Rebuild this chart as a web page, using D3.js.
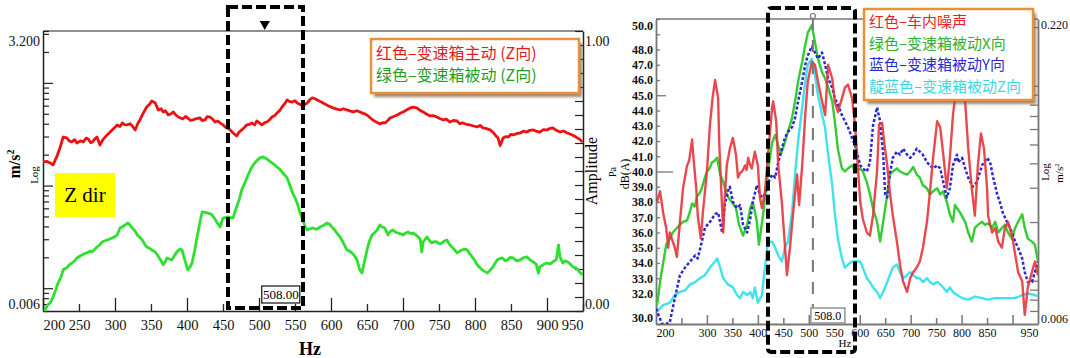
<!DOCTYPE html>
<html><head><meta charset="utf-8">
<script src="https://cdn.jsdelivr.net/npm/d3@7"></script>
<style>
body{margin:0;background:#fff;}
svg{display:block;}
.ax text{font-family:"Liberation Serif",serif;fill:#111;}
.serif{font-family:"Liberation Serif",serif;}
</style></head><body>
<svg id="c" width="1070" height="358"></svg>
<script>
// ---------- Left panel data (Hz, m/s², log axis) ----------
const leftRed = [[200,0.170],[205,0.172],[210,0.166],[214,0.159],[219,0.190],[224,0.237],[228,0.297],[233,0.291],[237,0.270],[240,0.266],[244,0.280],[247,0.260],[252,0.272],[256,0.266],[260,0.290],[263,0.284],[266,0.262],[269,0.266],[272,0.285],[275,0.297],[279,0.248],[283,0.278],[289,0.311],[293,0.330],[296,0.348],[300,0.370],[303,0.389],[307,0.375],[310,0.407],[313,0.392],[317,0.389],[321,0.400],[324,0.380],[328,0.348],[332,0.407],[335,0.440],[338,0.487],[344,0.582],[348,0.620],[351,0.666],[356,0.637],[360,0.545],[364,0.560],[367,0.521],[370,0.535],[374,0.487],[378,0.500],[381,0.521],[384,0.490],[388,0.465],[394,0.445],[398,0.470],[401,0.455],[405,0.430],[408,0.435],[413,0.448],[418,0.455],[421,0.430],[425,0.435],[428,0.470],[432,0.465],[436,0.440],[439,0.416],[443,0.425],[446,0.407],[450,0.390],[453,0.372],[457,0.360],[460,0.348],[464,0.325],[469,0.304],[472,0.330],[476,0.348],[480,0.370],[483,0.389],[487,0.395],[490,0.407],[494,0.390],[497,0.426],[501,0.405],[504,0.389],[508,0.410],[511,0.416],[515,0.440],[518,0.465],[522,0.480],[525,0.509],[529,0.540],[532,0.582],[536,0.630],[539,0.681],[542,0.660],[546,0.651],[550,0.670],[553,0.637],[557,0.615],[560,0.596],[564,0.620],[567,0.637],[571,0.690],[574,0.713],[578,0.700],[581,0.681],[585,0.660],[589,0.637],[594,0.609],[598,0.590],[603,0.570],[608,0.555],[613,0.545],[617,0.560],[622,0.545],[627,0.530],[631,0.521],[636,0.535],[640,0.521],[645,0.505],[650,0.487],[654,0.460],[658,0.435],[663,0.415],[668,0.398],[672,0.410],[675,0.407],[679,0.430],[682,0.455],[687,0.470],[692,0.487],[696,0.505],[700,0.521],[705,0.545],[710,0.570],[714,0.580],[719,0.570],[723,0.545],[728,0.521],[733,0.495],[738,0.476],[742,0.480],[747,0.465],[751,0.450],[756,0.435],[760,0.445],[765,0.416],[770,0.430],[775,0.426],[779,0.400],[783,0.407],[788,0.395],[793,0.389],[798,0.380],[803,0.372],[807,0.385],[811,0.364],[816,0.358],[821,0.348],[825,0.330],[828,0.311],[832,0.290],[835,0.245],[839,0.291],[843,0.300],[846,0.297],[850,0.315],[853,0.311],[858,0.320],[863,0.325],[867,0.338],[872,0.332],[876,0.345],[881,0.348],[885,0.338],[890,0.332],[895,0.350],[900,0.348],[904,0.360],[908,0.364],[913,0.345],[918,0.332],[923,0.340],[928,0.325],[932,0.318],[935,0.311],[939,0.300],[942,0.291],[946,0.280],[949,0.266]];
const leftGreen = [[202,0.0060],[206,0.0068],[210,0.0072],[214,0.0082],[218,0.0098],[221,0.0113],[225,0.0128],[228,0.0151],[233,0.0158],[236,0.0168],[240,0.0176],[244,0.0185],[247,0.0197],[251,0.0205],[254,0.0211],[258,0.0218],[261,0.0221],[265,0.0230],[268,0.0226],[272,0.0240],[275,0.0252],[279,0.0265],[282,0.0282],[285,0.0288],[289,0.0295],[292,0.0300],[296,0.0309],[300,0.0318],[303,0.0330],[307,0.0386],[311,0.0400],[314,0.0413],[318,0.0432],[321,0.0410],[324,0.0386],[328,0.0360],[331,0.0330],[335,0.0310],[338,0.0295],[341,0.0270],[344,0.0252],[348,0.0245],[351,0.0236],[356,0.0226],[360,0.0205],[363,0.0189],[367,0.0169],[370,0.0182],[372,0.0197],[376,0.0192],[379,0.0189],[383,0.0210],[386,0.0226],[390,0.0240],[393,0.0236],[397,0.0189],[401,0.0151],[404,0.0160],[407,0.0176],[411,0.0240],[414,0.0316],[418,0.0440],[421,0.0553],[425,0.0548],[428,0.0541],[432,0.0530],[435,0.0517],[439,0.0470],[442,0.0432],[446,0.0395],[450,0.0483],[454,0.0490],[457,0.0494],[461,0.0488],[464,0.0483],[466,0.0540],[469,0.0619],[473,0.0750],[476,0.0906],[480,0.1050],[483,0.1185],[488,0.1418],[491,0.1550],[494,0.1660],[498,0.1780],[501,0.1856],[506,0.1900],[511,0.1815],[515,0.1720],[518,0.1660],[522,0.1580],[525,0.1517],[529,0.1440],[532,0.1356],[536,0.1260],[539,0.1185],[543,0.1000],[546,0.0866],[550,0.0760],[553,0.0677],[557,0.0541],[561,0.0462],[564,0.0400],[567,0.0369],[571,0.0380],[575,0.0386],[580,0.0375],[585,0.0395],[590,0.0410],[594,0.0432],[598,0.0420],[601,0.0395],[605,0.0370],[608,0.0345],[612,0.0320],[615,0.0295],[619,0.0260],[622,0.0236],[626,0.0230],[629,0.0221],[633,0.0205],[636,0.0189],[640,0.0151],[643,0.0141],[647,0.0189],[651,0.0252],[654,0.0295],[657,0.0330],[661,0.0350],[664,0.0369],[668,0.0413],[671,0.0395],[675,0.0386],[679,0.0330],[682,0.0355],[686,0.0369],[690,0.0350],[693,0.0345],[697,0.0338],[700,0.0330],[704,0.0345],[707,0.0353],[711,0.0340],[714,0.0345],[718,0.0330],[721,0.0316],[724,0.0300],[726,0.0226],[728,0.0282],[731,0.0300],[733,0.0316],[737,0.0290],[740,0.0276],[744,0.0285],[747,0.0282],[751,0.0270],[754,0.0276],[758,0.0290],[761,0.0295],[764,0.0270],[768,0.0252],[772,0.0235],[775,0.0221],[779,0.0230],[782,0.0236],[786,0.0240],[789,0.0236],[793,0.0215],[796,0.0202],[800,0.0185],[803,0.0169],[807,0.0158],[810,0.0151],[814,0.0145],[817,0.0141],[821,0.0150],[824,0.0158],[828,0.0175],[831,0.0189],[835,0.0195],[838,0.0197],[842,0.0185],[845,0.0189],[849,0.0200],[853,0.0197],[858,0.0185],[863,0.0189],[867,0.0198],[872,0.0202],[876,0.0190],[881,0.0180],[885,0.0172],[888,0.0140],[890,0.0161],[895,0.0170],[900,0.0176],[904,0.0172],[908,0.0180],[913,0.0190],[916,0.0264],[918,0.0202],[922,0.0176],[925,0.0185],[929,0.0180],[933,0.0170],[936,0.0161],[940,0.0158],[943,0.0151],[946,0.0142],[949,0.0135]];
const leftXTicks = [200,250,300,350,400,450,500,550,600,650,700,750,800,850,900,950];
const leftYLabels = [3.2, 0.006];
const leftAmpLabels = [0, 1];
const leftLegend = ["红色–变速箱主动 (Z向)", "绿色–变速箱被动 (Z向)"];
const markerHz = 508;

// ---------- Right panel data (Hz, read on dB(A) axis) ----------
const rightRed = [[202,38.0],[208,38.7],[214,37.3],[220,36.3],[224,35.0],[227,36.0],[233,35.4],[237,35.0],[241,34.4],[247,36.7],[253,38.9],[261,40.4],[265,40.7],[271,42.1],[273,41.1],[279,38.9],[282,37.1],[288,35.6],[292,37.3],[300,40.0],[306,43.1],[311,44.8],[316,46.0],[322,44.8],[324,42.0],[328,38.9],[332,36.0],[335,38.3],[339,40.4],[345,41.5],[351,42.2],[357,41.1],[361,39.6],[365,39.9],[369,40.0],[375,40.4],[378,40.1],[381,40.9],[384,40.5],[388,40.2],[394,41.3],[400,40.4],[404,38.3],[408,37.6],[414,38.7],[420,41.1],[428,44.2],[430,44.6],[436,43.3],[440,40.4],[447,38.0],[453,35.2],[457,33.2],[463,35.0],[469,37.2],[477,39.8],[481,37.8],[487,40.4],[493,43.7],[498,45.9],[506,47.2],[512,47.0],[518,45.9],[526,44.6],[532,43.7],[538,47.0],[546,46.1],[551,44.6],[557,43.9],[565,44.8],[571,45.5],[577,45.7],[585,44.8],[591,43.0],[596,40.5],[601,38.0],[606,36.9],[614,36.0],[620,35.8],[626,37.1],[634,40.0],[638,43.1],[644,43.2],[648,41.9],[654,40.4],[659,38.7],[665,37.1],[673,35.4],[679,33.9],[685,32.8],[693,32.1],[699,33.0],[705,33.4],[712,33.7],[718,34.1],[724,35.0],[732,36.7],[738,38.7],[744,40.9],[752,43.3],[758,42.9],[764,41.1],[771,38.9],[777,40.9],[783,43.7],[791,45.9],[797,47.0],[801,47.2],[807,44.6],[813,41.5],[820,38.9],[826,37.1],[832,40.4],[838,42.5],[844,41.5],[850,38.9],[852,37.1],[860,36.0],[866,36.3],[872,35.4],[879,35.0],[885,36.3],[891,36.7],[899,35.8],[905,34.6],[911,33.4],[919,32.8],[924,30.6],[930,32.4],[938,33.4],[944,34.1],[950,33.2]];
const rightGreen = [[202,31.25],[208,32.75],[214,34.0],[220,35.2],[227,35.6],[233,36.0],[241,36.3],[247,36.5],[253,36.7],[261,36.8],[266,37.3],[271,37.9],[276,37.7],[281,38.4],[286,38.6],[290,38.9],[295,39.5],[300,40.0],[305,40.2],[310,40.6],[315,40.7],[320,40.9],[326,39.8],[332,39.3],[339,38.5],[344,38.2],[349,38.0],[357,37.6],[363,36.5],[371,35.8],[379,36.5],[385,37.6],[390,38.0],[398,36.7],[402,35.2],[410,37.1],[420,40.0],[428,41.9],[434,42.4],[440,41.7],[445,41.1],[453,41.9],[459,42.6],[467,43.5],[473,44.6],[479,45.9],[487,47.2],[493,48.3],[498,49.1],[506,49.6],[512,48.5],[518,47.4],[526,46.5],[532,46.1],[538,45.5],[546,44.6],[551,43.3],[557,41.5],[565,40.2],[571,40.0],[577,40.2],[585,40.4],[591,40.0],[601,40.2],[606,40.0],[614,39.3],[620,38.5],[626,37.6],[634,36.7],[640,35.4],[646,36.7],[654,38.5],[659,39.8],[665,40.0],[673,40.2],[679,40.0],[685,39.9],[693,39.8],[699,40.0],[705,40.3],[712,39.8],[718,39.6],[724,39.1],[732,38.9],[738,38.5],[744,38.7],[752,38.9],[758,38.5],[764,38.7],[771,38.0],[777,37.2],[783,36.7],[787,37.8],[797,37.3],[807,36.7],[813,36.0],[820,35.4],[826,36.3],[832,36.5],[840,36.7],[846,36.5],[852,36.6],[860,36.3],[866,36.7],[872,36.0],[879,36.3],[885,36.5],[891,36.0],[899,35.6],[905,36.3],[911,36.7],[919,37.2],[924,36.3],[930,35.6],[938,35.4],[944,35.2],[950,34.1]];
const rightBlue = [[200,31.0],[206,30.5],[212,30.0],[220,30.0],[227,30.1],[237,31.7],[247,33.2],[257,33.7],[267,34.1],[277,34.5],[282,34.3],[290,35.4],[296,36.3],[306,36.7],[316,37.2],[322,37.3],[330,36.0],[335,37.8],[341,38.7],[345,39.0],[351,38.0],[359,37.6],[365,37.8],[371,36.5],[379,36.0],[385,36.9],[390,38.0],[398,39.1],[404,38.5],[408,38.3],[414,38.5],[422,39.4],[428,39.8],[434,39.6],[440,40.6],[447,41.5],[453,42.2],[459,42.6],[467,42.9],[473,43.5],[479,44.6],[487,45.9],[493,47.0],[498,47.6],[506,48.2],[512,47.8],[518,47.4],[526,47.8],[532,47.0],[538,46.1],[546,45.5],[551,44.8],[557,44.4],[565,43.7],[571,43.3],[577,42.9],[585,42.2],[591,41.7],[601,40.4],[606,40.2],[614,40.0],[620,40.6],[626,43.0],[634,44.2],[640,43.3],[646,41.1],[650,38.5],[654,38.3],[659,39.8],[665,40.9],[673,41.3],[679,41.1],[685,41.5],[693,41.1],[699,40.9],[705,41.1],[712,41.5],[718,41.3],[724,41.1],[732,40.6],[738,40.4],[744,40.2],[752,40.4],[758,40.2],[764,39.3],[771,38.3],[777,38.9],[783,40.4],[791,41.1],[793,40.6],[801,40.9],[807,40.2],[813,39.6],[822,39.0],[830,39.3],[840,40.4],[850,40.9],[856,40.6],[862,39.6],[870,38.5],[875,38.0],[881,37.3],[889,36.7],[899,36.0],[905,35.4],[911,35.0],[919,34.3],[924,33.4],[930,32.75],[938,32.75],[944,33.4],[950,34.1]];
const rightCyan = [[202,30.8],[208,31.0],[214,31.25],[220,31.3],[227,31.4],[237,31.9],[247,32.1],[257,32.2],[267,32.6],[277,32.75],[286,33.0],[296,33.2],[306,33.7],[316,34.1],[320,34.3],[326,33.7],[332,33.0],[341,32.6],[351,32.4],[359,31.9],[365,31.7],[371,32.1],[379,31.9],[385,32.1],[390,31.7],[394,32.4],[400,31.4],[408,31.9],[414,33.7],[420,35.4],[428,35.4],[434,35.0],[440,34.5],[447,34.1],[453,35.0],[459,35.4],[467,37.3],[473,39.8],[479,42.0],[487,44.2],[493,45.9],[498,47.0],[506,47.4],[512,46.3],[518,45.0],[526,43.7],[532,42.85],[538,41.1],[546,39.1],[551,37.3],[557,35.6],[565,34.3],[571,33.7],[577,33.9],[585,34.1],[591,34.1],[601,34.1],[606,33.7],[614,33.0],[620,32.75],[626,32.4],[634,32.1],[640,31.7],[646,32.1],[654,32.75],[659,33.2],[665,33.7],[673,33.9],[679,33.4],[685,33.0],[693,33.2],[699,33.4],[705,33.2],[712,33.0],[718,33.0],[724,32.75],[732,33.0],[738,32.75],[744,32.6],[752,32.75],[758,32.6],[764,32.4],[771,32.1],[777,32.4],[783,32.1],[791,31.9],[801,31.7],[813,31.6],[826,31.8],[840,31.7],[852,31.6],[866,31.7],[879,31.7],[891,31.7],[905,31.7],[919,31.9],[930,32.0],[944,31.9],[950,31.8]];
const rightXLabels = [200,300,350,400,450,500,550,600,650,700,750,800,850,950];
const rightYLabels = [30,32,33,34,35,36,37,38,39,40,41,42,43,44,45,46,47,48,50];
const rightLogLabels = [0.006, 0.22];
const rightLegend = ["红色–车内噪声", "绿色–变速箱被动X向", "蓝色–变速箱被动Y向", "靛蓝色–变速箱被动Z向"];

// ---------- drawing ----------
const svg = d3.select("#c");
const defs = svg.append("defs");
const blur = defs.append("filter").attr("id","sh").attr("x","-10%").attr("y","-10%").attr("width","130%").attr("height","140%");
blur.append("feGaussianBlur").attr("stdDeviation",1.5);

// ===== LEFT PANEL =====
const xL = d3.scaleLinear().domain([200,950]).range([43,583]);
const yL = d3.scaleLog().domain([0.006,3.2]).range([311,31]);
const aL = d3.scaleLinear().domain([0,1]).range([311,31]);
const gL = svg.append("g");

gL.append("line").attr("x1",43).attr("x2",583).attr("y1",31).attr("y2",31).attr("stroke","#222").attr("stroke-width",1.2);

const majL = [1,0.1,0.01];
const minL = [3,2,0.9,0.8,0.7,0.6,0.5,0.4,0.3,0.2,0.09,0.08,0.07,0.06,0.05,0.04,0.03,0.02,0.009,0.008,0.007];
gL.append("g").attr("class","ax").attr("transform","translate(43,0)")
  .call(d3.axisRight(yL).tickValues(majL).tickSize(10).tickFormat("").tickSizeOuter(0))
  .call(g=>g.selectAll("line").attr("stroke","#222").attr("stroke-width",1.2))
  .call(g=>g.select(".domain").attr("stroke","#222").attr("stroke-width",1.5));
gL.append("g").attr("class","ax").attr("transform","translate(43,0)")
  .call(d3.axisRight(yL).tickValues(minL.concat([3.2,0.006])).tickSize(6).tickFormat("").tickSizeOuter(0))
  .call(g=>g.selectAll("line").attr("stroke","#222").attr("stroke-width",1.2))
  .call(g=>g.select(".domain").remove());
gL.append("g").attr("class","ax").attr("transform","translate(43,0)")
  .call(d3.axisLeft(yL).tickValues(leftYLabels).tickSize(0).tickPadding(3).tickFormat(d=>d===3.2?"3.200":"0.006"))
  .call(g=>g.select(".domain").remove())
  .call(g=>g.selectAll("text").attr("font-size",14).attr("dy",(d)=>d===3.2?"1.05em":"-0.2em"));

gL.append("g").attr("class","ax").attr("transform","translate(583,0)")
  .call(d3.axisLeft(aL).tickValues(d3.range(0,1.0001,0.05)).tickSize(8).tickFormat("").tickSizeOuter(0))
  .call(g=>g.selectAll("line").attr("stroke","#222").attr("stroke-width",1.2))
  .call(g=>g.select(".domain").attr("stroke","#222").attr("stroke-width",1.5));
gL.append("g").attr("class","ax").attr("transform","translate(583,0)")
  .call(d3.axisRight(aL).tickValues(leftAmpLabels).tickSize(0).tickPadding(2).tickFormat(d3.format(".2f")))
  .call(g=>g.select(".domain").remove())
  .call(g=>g.selectAll("text").attr("font-size",14).attr("dy",d=>d===1?"1.0em":"-0.2em"));

gL.append("g").attr("class","ax").attr("transform","translate(0,311)")
  .call(d3.axisTop(xL).tickValues(leftXTicks.filter(v=>v%100===0 && v<950)).tickSize(13).tickFormat("").tickSizeOuter(0))
  .call(g=>g.selectAll("line").attr("stroke","#222").attr("stroke-width",1.3))
  .call(g=>g.select(".domain").attr("stroke","#222").attr("stroke-width",1.6));
gL.append("g").attr("class","ax").attr("transform","translate(0,311)")
  .call(d3.axisTop(xL).tickValues(leftXTicks.filter(v=>v%100!==0)).tickSize(7).tickFormat("").tickSizeOuter(0))
  .call(g=>g.selectAll("line").attr("stroke","#222").attr("stroke-width",1.3))
  .call(g=>g.select(".domain").remove());
gL.append("g").attr("class","ax").attr("transform","translate(0,311)")
  .call(d3.axisBottom(xL).tickValues(leftXTicks).tickSize(0).tickPadding(9))
  .call(g=>g.select(".domain").remove())
  .call(g=>g.selectAll("text").attr("font-size",14.5)
     .attr("text-anchor",d=>d===200?"start":(d===950?"end":"middle")));

const clipL = defs.append("clipPath").attr("id","clipL");
clipL.append("rect").attr("x",43).attr("y",31).attr("width",540).attr("height",282);
const lineL = d3.line().x(d=>xL(d[0])).y(d=>yL(d[1]));
const cl = gL.append("g").attr("clip-path","url(#clipL)");
cl.append("path").datum(leftGreen).attr("d",lineL).attr("fill","none").attr("stroke","#2ee02e").attr("stroke-width",2.8).attr("stroke-linejoin","round");
cl.append("path").datum(leftRed).attr("d",lineL).attr("fill","none").attr("stroke","#ee1111").attr("stroke-width",2.8).attr("stroke-linejoin","round");

gL.append("rect").attr("x",228).attr("y",7).attr("width",75).attr("height",301)
  .attr("fill","none").attr("stroke","#000").attr("stroke-width",4).attr("stroke-dasharray","10,4");
gL.append("path").attr("d",d3.symbol(d3.symbolTriangle,45)())
  .attr("transform",`translate(${xL(markerHz)},24) rotate(180)`).attr("fill","#000");
const bL = gL.append("g");
bL.append("rect").attr("x",xL(markerHz)-3).attr("y",286).attr("width",38).attr("height",17).attr("fill","#fff").attr("stroke","#111").attr("stroke-width",1.2);
bL.append("text").attr("class","serif").attr("x",xL(markerHz)+16).attr("y",299).attr("text-anchor","middle")
  .attr("font-size",13).text(markerHz.toFixed(2));

svg.append("text").attr("class","serif").attr("transform","translate(20,164) rotate(-90)").attr("text-anchor","middle")
  .attr("font-weight","bold").attr("font-size",16).html("m/s<tspan dy='-6' font-size='10'>2</tspan>");
svg.append("text").attr("class","serif").attr("transform","translate(38,175) rotate(-90)").attr("text-anchor","middle")
  .attr("font-size",11).text("Log");
svg.append("text").attr("class","serif").attr("transform","translate(597,171) rotate(-90)").attr("text-anchor","middle")
  .attr("font-size",16).text("Amplitude");
svg.append("text").attr("class","serif").attr("transform","translate(616,172) rotate(-90)").attr("text-anchor","middle")
  .attr("font-size",10).text("Pa");
svg.append("text").attr("class","serif").attr("x",310).attr("y",355).attr("text-anchor","middle")
  .attr("font-weight","bold").attr("font-size",18).text("Hz");

svg.append("rect").attr("x",55).attr("y",173).attr("width",60).attr("height",44).attr("fill","#ffff00");
svg.append("text").attr("class","serif").attr("x",85).attr("y",202).attr("text-anchor","middle")
  .attr("font-size",21).text("Z dir");

function legend(x,y,w,h,lines,colors,fs,lh,y0){
  const g = svg.append("g");
  g.append("rect").attr("x",x+3).attr("y",y+4).attr("width",w).attr("height",h).attr("fill","#7a5a3c").attr("opacity",0.75).attr("filter","url(#sh)");
  g.append("rect").attr("x",x).attr("y",y).attr("width",w).attr("height",h).attr("fill","#fff").attr("stroke","#e8913a").attr("stroke-width",2.5);
  lines.forEach((t,i)=>{
    g.append("text").attr("x",x+5).attr("y",y+y0+i*lh)
      .attr("font-family","'Noto Sans CJK SC', sans-serif").attr("font-size",fs).attr("fill",colors[i]).text(t);
  });
}
legend(371,39,208,54,leftLegend,["#e41a1c","#1f9e1f"],16,22,20);

// ===== RIGHT PANEL =====
const xR = d3.scaleLinear().domain([200,950]).range([656,1038]);
const yR = d3.scaleLinear().domain([30,50]).range([324,19]);
const yRL = d3.scaleLog().domain([0.006,0.22]).range([324,19]);
const gR = svg.append("g");
const fc = "#777";
gR.append("line").attr("x1",656).attr("x2",1038).attr("y1",19).attr("y2",19).attr("stroke",fc).attr("stroke-width",1.5);

gR.append("g").attr("class","ax").attr("transform","translate(656,0)")
  .call(d3.axisRight(yR).tickValues(d3.range(30,51,1)).tickSize(4).tickFormat("").tickSizeOuter(0))
  .call(g=>g.select(".domain").attr("stroke",fc).attr("stroke-width",1.8))
  .call(g=>g.selectAll(".tick line").attr("stroke",fc).attr("stroke-width",1.3).attr("x2",d=>d===40?17:(d===45?10:4)));
gR.append("g").attr("class","ax").attr("transform","translate(656,0)")
  .call(d3.axisLeft(yR).tickValues(rightYLabels).tickSize(0).tickPadding(3).tickFormat(d3.format(".1f")))
  .call(g=>g.select(".domain").remove())
  .call(g=>g.selectAll("text").attr("font-size",12).attr("font-weight","bold").attr("fill","#333")
     .attr("dy",d=>d===50?"0.85em":(d===30?"-0.2em":"0.32em")));

const rMaj = [0.01,0.1], rMin=[0.02,0.03,0.04,0.05,0.06,0.07,0.08,0.09,0.2,0.009,0.008,0.007];
gR.append("g").attr("class","ax").attr("transform","translate(1038,0)")
  .call(d3.axisLeft(yRL).tickValues(rMaj.concat(rMin)).tickSize(8).tickFormat("").tickSizeOuter(0))
  .call(g=>g.select(".domain").attr("stroke",fc).attr("stroke-width",1.8))
  .call(g=>g.selectAll(".tick line").attr("stroke",fc).attr("stroke-width",1.3));
gR.append("g").attr("class","ax").attr("transform","translate(1038,0)")
  .call(d3.axisRight(yRL).tickValues(rightLogLabels).tickSize(0).tickPadding(3).tickFormat(d=>d===0.22?"0.220":"0.006"))
  .call(g=>g.select(".domain").remove())
  .call(g=>g.selectAll("text").attr("font-size",12).attr("fill","#333").attr("dy",d=>d===0.22?"0.75em":"-0.15em"));

gR.append("g").attr("class","ax").attr("transform","translate(0,324)")
  .call(d3.axisTop(xR).tickValues(d3.range(250,950,50)).tickSize(8).tickFormat("").tickSizeOuter(0))
  .call(g=>g.select(".domain").attr("stroke",fc).attr("stroke-width",1.8))
  .call(g=>g.selectAll(".tick line").attr("stroke",fc).attr("stroke-width",1.5).attr("y2",d=>(d%100===0)?-9:-6));
gR.append("g").attr("class","ax").attr("transform","translate(0,324)")
  .call(d3.axisBottom(xR).tickValues(rightXLabels).tickSize(0).tickPadding(4))
  .call(g=>g.select(".domain").remove())
  .call(g=>g.selectAll("text").attr("font-size",12).attr("fill","#222")
     .attr("text-anchor",d=>d===200?"start":(d===950?"end":"middle")));

const clipR = defs.append("clipPath").attr("id","clipR");
clipR.append("rect").attr("x",656).attr("y",19).attr("width",382).attr("height",305);
const lineR = d3.line().x(d=>xR(d[0])).y(d=>yR(d[1]));
const cr = gR.append("g").attr("clip-path","url(#clipR)");
cr.append("path").datum(rightCyan).attr("d",lineR).attr("fill","none").attr("stroke","#3fe3ee").attr("stroke-width",2.4).attr("stroke-linejoin","round");
cr.append("path").datum(rightGreen).attr("d",lineR).attr("fill","none").attr("stroke","#33cc33").attr("stroke-width",2.4).attr("stroke-linejoin","round");
cr.append("path").datum(rightBlue).attr("d",lineR).attr("fill","none").attr("stroke","#2a2ad0").attr("stroke-width",2.5).attr("stroke-dasharray","3,2").attr("stroke-linejoin","round");
cr.append("path").datum(rightRed).attr("d",lineR).attr("fill","none").attr("stroke","#e8343c").attr("stroke-width",2.4).attr("stroke-linejoin","round").attr("opacity",0.9);

gR.append("line").attr("x1",xR(markerHz)).attr("x2",xR(markerHz)).attr("y1",18).attr("y2",320)
  .attr("stroke","#777").attr("stroke-width",2).attr("stroke-dasharray","12,10");
gR.append("circle").attr("cx",xR(markerHz)).attr("cy",16).attr("r",2.5).attr("fill","#fff").attr("stroke","#777").attr("stroke-width",1.2);
gR.append("rect").attr("x",xR(markerHz)-2).attr("y",308).attr("width",34).attr("height",15).attr("fill","#fff").attr("stroke","#999").attr("stroke-width",1.6);
gR.append("text").attr("class","serif").attr("x",xR(markerHz)+15).attr("y",320).attr("text-anchor","middle")
  .attr("font-size",12).text(markerHz.toFixed(1));

gR.append("rect").attr("x",768).attr("y",8).attr("width",87).attr("height",344).attr("rx",3)
  .attr("fill","none").attr("stroke","#000").attr("stroke-width",4).attr("stroke-dasharray","10,4");

svg.append("text").attr("class","serif").attr("transform","translate(629,174) rotate(-90)").attr("text-anchor","middle")
  .attr("font-size",12).text("dB(A)");
svg.append("text").attr("class","serif").attr("transform","translate(1049,172) rotate(-90)").attr("text-anchor","middle")
  .attr("font-size",11).text("Log");
svg.append("text").attr("class","serif").attr("transform","translate(1063,173) rotate(-90)").attr("text-anchor","middle")
  .attr("font-size",11).html("m/s<tspan dy='-4' font-size='7'>2</tspan>");
svg.append("text").attr("class","serif").attr("x",845).attr("y",347).attr("text-anchor","middle")
  .attr("font-size",11).text("Hz");

legend(864,9,169,91,rightLegend,["#e8202a","#2fae2f","#2a2ad0","#3fd6e0"],15,21.5,18);
</script>
</body></html>
